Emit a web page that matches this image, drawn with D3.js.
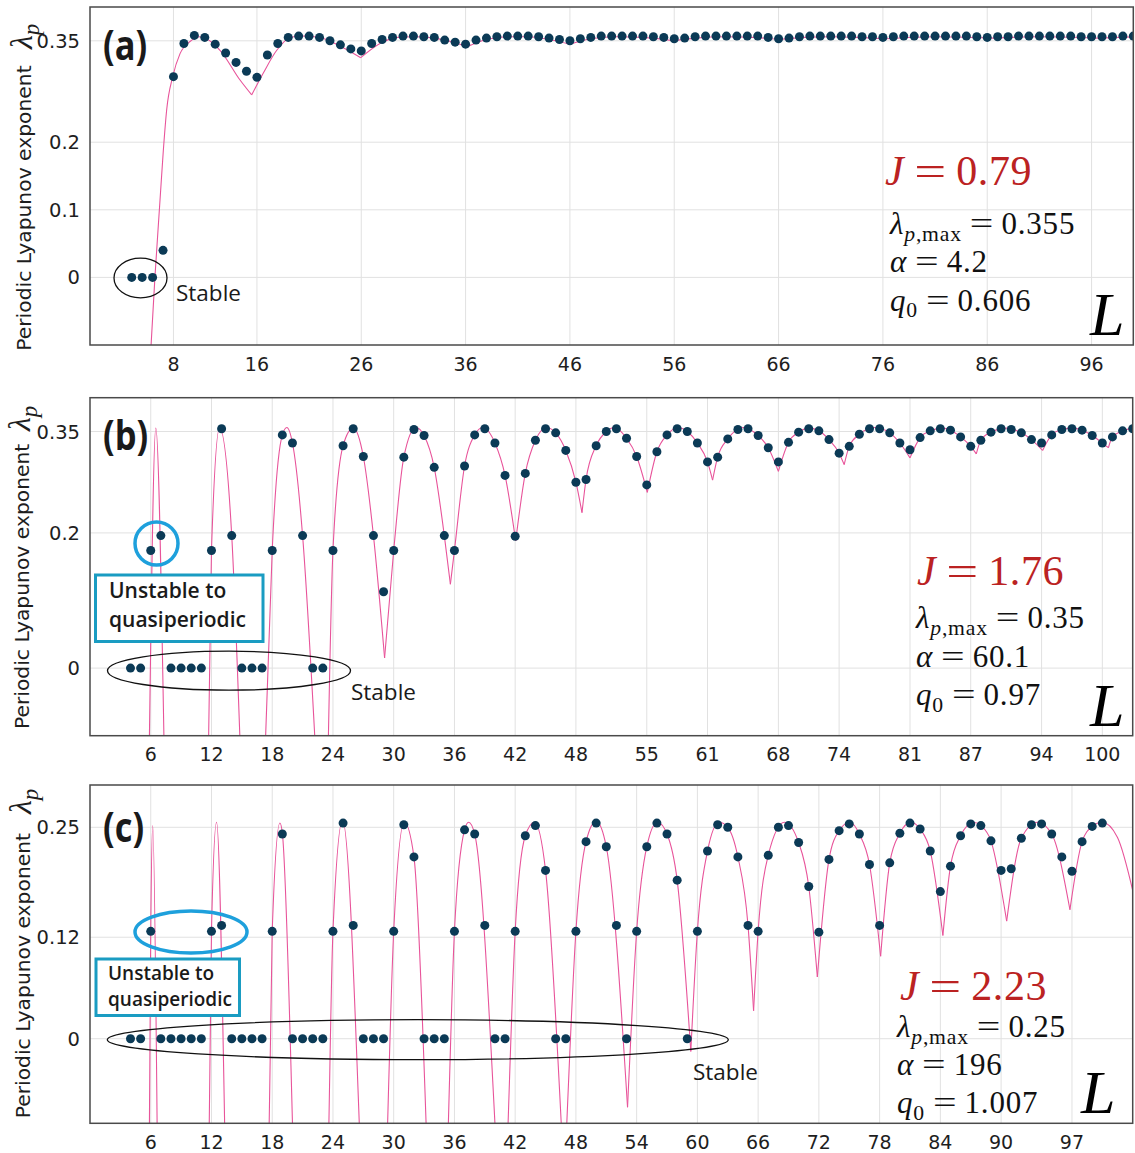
<!DOCTYPE html>
<html><head><meta charset="utf-8">
<script src="https://cdn.jsdelivr.net/npm/d3@7"></script>
<style>body{margin:0;background:#fff} svg{display:block}</style>
</head><body>
<svg id="chart" width="1135" height="1153"></svg>
<script>
// ---------------- DATA ----------------
// Panel (a): periodic Lyapunov exponent at integer L starting at L = 4
const firstL_a = 4;
const lambdaA = [
  0,0,0,0.040,0.297,0.346,
  0.358,0.355,0.345,0.332,0.318,0.305,0.296,0.329,0.346,0.355,
  0.357,0.357,0.355,0.350,0.344,0.338,0.335,0.346,0.352,0.355,
  0.357,0.357,0.356,0.355,0.351,0.348,0.345,0.351,0.354,0.356,
  0.357,0.357,0.357,0.356,0.354,0.352,0.350,0.353,0.355,0.357,
  0.357,0.357,0.357,0.357,0.356,0.355,0.353,0.354,0.356,0.357,
  0.357,0.357,0.357,0.357,0.357,0.355,0.353,0.354,0.356,0.357,
  0.357,0.357,0.357,0.357,0.356,0.356,0.355,0.356,0.357,0.357,
  0.357,0.357,0.357,0.357,0.357,0.356,0.355,0.356,0.356,0.357,
  0.357,0.357,0.357,0.357,0.357,0.356,0.356,0.356,0.356,0.357,0.357
];
// Panel (a): theory curve, arches between cusps, [L, value]
const curveA = [
  [[5.8,-0.115],[6.23,0.002],[6.71,0.114],[7.03,0.188],[7.35,0.248],[7.93,0.297],[8.63,0.331],[9.59,0.349],[10.55,0.356],[12.46,0.336],[14.38,0.292],[15.5,0.270]],
  [[15.5,0.270],[16.6,0.302],[17.9,0.336],[19.2,0.355],[20.3,0.357],[22,0.355],[24,0.342],[25.95,0.325]],
  [[25.95,0.325],[27.8,0.346],[29.5,0.355],[31,0.356],[33,0.354],[35,0.347],[36.1,0.341]],
  [[36.1,0.341],[38,0.352],[40,0.356],[42,0.356],[44,0.352],[46,0.345]],
  [[46,0.345],[48,0.353],[50.5,0.356],[53,0.355],[55.9,0.350]],
  [[55.9,0.350],[58,0.354],[61,0.356],[63.5,0.355],[66.1,0.352]],
  [[66.1,0.352],[68.5,0.355],[71,0.356],[73.5,0.355],[76.3,0.353]],
  [[76.3,0.353],[81,0.356],[86.4,0.354]],
  [[86.4,0.354],[91,0.356],[96.6,0.354]],
  [[96.6,0.354],[100.5,0.356]]
];
const xTicksA = [8,16,26,36,46,56,66,76,86,96];
const yTicksA = [0,0.1,0.2,0.35];
const yTickLabelsA = ["0","0.1","0.2","0.35"];

// Panel (b)
const firstL_b = 4;
const lambdaB = [
  0,0,0.174,0.196,0,0,
  0,0,0.174,0.354,0.196,0,0,0,0.174,0.345,
  0.333,0.196,0,0,0.174,0.329,0.354,0.313,0.196,0.113,
  0.174,0.312,0.353,0.344,0.297,0.196,0.174,0.299,0.345,0.354,
  0.333,0.285,0.195,0.288,0.337,0.354,0.348,0.322,0.275,0.279,
  0.329,0.350,0.354,0.340,0.313,0.271,0.320,0.345,0.354,0.350,
  0.333,0.305,0.312,0.339,0.353,0.354,0.344,0.326,0.305,0.334,
  0.349,0.354,0.351,0.338,0.318,0.328,0.346,0.354,0.354,0.348,
  0.333,0.323,0.341,0.351,0.354,0.352,0.342,0.328,0.337,0.349,
  0.354,0.353,0.348,0.338,0.333,0.345,0.353,0.354,0.352,0.344,
  0.333,0.342,0.351,0.354
];
const curveB = [
  [[5.87,-0.1],[6.5,0.355],[7.3,-0.1]],
  [[11.72,-0.1],[12,0.174],[12.8,0.355],[14,0.196],[14.8,-0.1]],
  [[17.35,-0.1],[18,0.174],[19,0.345],[19.45,0.356],[20,0.333],[21,0.196],[22.2,-0.1]],
  [[23.55,-0.1],[24,0.174],[25,0.329],[26,0.355],[27,0.313],[28,0.196],[29.1,0.015]],
  [[29.1,0.015],[30,0.174],[31,0.312],[32.2,0.356],[33,0.344],[34,0.297],[35,0.196],[35.6,0.124]],
  [[35.6,0.124],[36,0.174],[37,0.299],[38,0.345],[38.8,0.356],[40,0.333],[41,0.285],[42.05,0.188]],
  [[42.05,0.188],[43,0.288],[44,0.337],[45.1,0.356],[46,0.348],[47,0.322],[48,0.275],[48.6,0.230]],
  [[48.6,0.230],[49,0.279],[50,0.329],[51,0.350],[51.8,0.356],[53,0.340],[54,0.313],[55.05,0.260]],
  [[55.05,0.260],[56,0.320],[57,0.345],[58.1,0.356],[59,0.350],[60,0.333],[61,0.305],[61.5,0.278]],
  [[61.5,0.278],[62,0.312],[63,0.339],[64.5,0.356],[66,0.344],[67,0.326],[68,0.291]],
  [[68,0.291],[69,0.334],[70,0.349],[71.1,0.355],[72,0.351],[73,0.338],[74,0.318],[74.5,0.301]],
  [[74.5,0.301],[75,0.328],[76,0.346],[77.5,0.356],[79,0.348],[80,0.333],[81,0.311]],
  [[81,0.311],[82,0.341],[83,0.351],[84.2,0.355],[85,0.352],[86,0.342],[87,0.328],[87.55,0.317]],
  [[87.55,0.317],[88,0.337],[89,0.349],[90.6,0.355],[92,0.348],[93,0.338],[94.1,0.322]],
  [[94.1,0.322],[95,0.345],[96,0.353],[97.1,0.355],[98,0.352],[99,0.344],[100,0.333],[100.6,0.326]],
  [[100.6,0.326],[101,0.342],[102,0.351],[103.5,0.356]]
];
const xTicksB = [6,12,18,24,30,36,42,48,55,61,68,74,81,87,94,100];
const yTicksB = [0,0.2,0.35];
const yTickLabelsB = ["0","0.2","0.35"];

// Panel (c)
const firstL_c = 4;
const lambdaC = [
  0,0,0.127,0,0,0,
  0,0,0.127,0.134,0,0,0,0,0.127,0.242,
  0,0,0,0,0.127,0.255,0.134,0,0,0,
  0.127,0.253,0.215,0,0,0,0.127,0.247,0.242,0.134,
  0,0,0.127,0.240,0.252,0.199,0,0,0.127,0.233,
  0.255,0.227,0.134,0,0.127,0.227,0.255,0.242,0.1875,0,
  0.127,0.222,0.253,0.250,0.215,0.134,0.127,0.217,0.250,0.252,
  0.232,0.180,0.126,0.212,0.246,0.254,0.242,0.206,0.134,0.208,
  0.243,0.255,0.248,0.222,0.174,0.204,0.240,0.254,0.252,0.234,
  0.199,0.201,0.237,0.253,0.254,0.242,0.215,0.198,0.233,0.251,0.255
];
const curveC = [
  [[5.87,-0.1],[6,0.127],[6.2,0.252],[6.63,-0.1]],
  [[11.78,-0.1],[12,0.127],[12.5,0.256],[13.3,-0.1]],
  [[17.7,-0.1],[18,0.127],[18.76,0.255],[19,0.243],[20,-0.1]],
  [[23.6,-0.1],[24,0.127],[24.95,0.258],[26.6,-0.1]],
  [[29.4,-0.1],[30,0.127],[31.05,0.256],[32,0.215],[33.2,-0.1]],
  [[35.4,-0.1],[36,0.127],[37,0.247],[37.4,0.256],[38,0.242],[40,-0.1]],
  [[41.3,-0.1],[42,0.127],[43,0.240],[43.9,0.256],[45,0.199],[46.55,-0.1]],
  [[47.1,-0.1],[48,0.127],[49,0.233],[50,0.257],[51,0.227],[53.1,-0.081]],
  [[53.1,-0.081],[54,0.127],[55,0.227],[56.05,0.256],[57,0.242],[58,0.1875],[59.35,-0.015]],
  [[59.35,-0.015],[60,0.127],[61,0.222],[62.15,0.256],[63,0.250],[64,0.215],[65,0.134],[65.55,0.033]],
  [[65.55,0.033],[66,0.127],[67,0.217],[68.6,0.256],[70,0.232],[71,0.180],[71.85,0.073]],
  [[71.85,0.073],[73,0.212],[74,0.246],[75.05,0.256],[76,0.242],[77,0.206],[78.1,0.0975]],
  [[78.1,0.0975],[79,0.208],[80,0.243],[81.1,0.256],[82,0.248],[83,0.222],[84.25,0.122]],
  [[84.25,0.122],[85,0.204],[86,0.240],[87.3,0.256],[88,0.252],[89,0.234],[90.55,0.139]],
  [[90.55,0.139],[92,0.237],[93.6,0.256],[95,0.242],[96.8,0.1525]],
  [[96.8,0.1525],[98,0.233],[99,0.251],[100,0.256],[101.5,0.238],[103.2,0.165]]
];
const xTicksC = [6,12,18,24,30,36,42,48,54,60,66,72,78,84,90,97];
const yTicksC = [0,0.12,0.25];
const yTickLabelsC = ["0","0.12","0.25"];

// Parameter annotations
const paramsJ = ["0.79","1.76","2.23"];
const paramsLmax = ["0.355","0.35","0.25"];
const paramsAlpha = ["4.2","60.1","196"];
const paramsQ0 = ["0.606","0.97","1.007"];
const panelLetters = ["(a)","(b)","(c)"];

// ---------------- DRAW ----------------
const svg = d3.select("#chart");
const DOT = "#0b3a56", PINK = "#e8549a", RED = "#bb2222";
const SERIF = "'Liberation Serif', 'Times New Roman', serif";

const panels = [
  {letter:panelLetters[0], x0:90, x1:1133.3, y0:7, y1:345, xd:[0,100], yd:[-0.1,0.4],
   xt:xTicksA, yt:yTicksA, ytl:yTickLabelsA, first:firstL_a, vals:lambdaA, curve:curveA,
   lab:{x:30.5, yb:350.7, lam:49}, letterPos:[103,60],
   txt:{jx:885,jy:185,px:890,ly:234,ay:272,qy:310.5,Lx:1090,Ly:335}},
  {letter:panelLetters[1], x0:90, x1:1132.7, y0:397.7, y1:735.7, xd:[0,103], yd:[-0.1,0.4],
   xt:xTicksB, yt:yTicksB, ytl:yTickLabelsB, first:firstL_b, vals:lambdaB, curve:curveB,
   lab:{x:29, yb:729, lam:431}, letterPos:[103,450],
   txt:{jx:917,jy:585,px:916,ly:628,ay:667,qy:705,Lx:1090,Ly:726}},
  {letter:panelLetters[2], x0:90, x1:1132.7, y0:785, y1:1123.3, xd:[0,103], yd:[-0.1,0.3],
   xt:xTicksC, yt:yTicksC, ytl:yTickLabelsC, first:firstL_c, vals:lambdaC, curve:curveC,
   lab:{x:29.5, yb:1118.3, lam:814}, letterPos:[103,842],
   txt:{jx:900,jy:1000,px:897,ly:1037,ay:1075,qy:1113,Lx:1081,Ly:1113}}
];

// math-like line: LHS (italic / subscripts), a horizontally stretched "=", then the value
function mathText(g, x, y, size, color, lhs, value, gap, ls) {
  const t = g.append("text").attr("x", x).attr("y", y)
    .attr("font-family", SERIF).attr("font-size", size).attr("fill", color)
    .attr("letter-spacing", ls);
  let shift = 0;
  lhs.forEach(s => {
    const sp = t.append("tspan").text(s.t);
    if (s.it) sp.attr("font-style", "italic");
    const target = s.sub ? size * 0.22 : 0;
    const dy = target - shift;
    if (dy !== 0) sp.attr("dy", dy);
    shift = target;
    if (s.sub) sp.attr("font-size", size * 0.7);
  });
  const w1 = t.node().getComputedTextLength();
  const xe = x + w1 + gap;
  const eq = g.append("text").attr("transform", `translate(${xe},${y}) scale(1.35,1)`)
    .attr("font-family", SERIF).attr("font-size", size).attr("fill", color).text("=");
  const we = eq.node().getComputedTextLength() * 1.35;
  g.append("text").attr("x", xe + we + gap).attr("y", y)
    .attr("font-family", SERIF).attr("font-size", size).attr("fill", color)
    .attr("letter-spacing", ls).text(value);
}

panels.forEach((p, i) => {
  const g = svg.append("g");
  const x = d3.scaleLinear().domain(p.xd).range([p.x0, p.x1]);
  const y = d3.scaleLinear().domain(p.yd).range([p.y1, p.y0]);
  const cid = "clip" + i;
  svg.append("clipPath").attr("id", cid).append("rect")
    .attr("x", p.x0).attr("y", p.y0).attr("width", p.x1 - p.x0).attr("height", p.y1 - p.y0);

  // grid
  g.append("g").selectAll("line").data(p.xt).join("line")
    .attr("x1", d => x(d)).attr("x2", d => x(d)).attr("y1", p.y0).attr("y2", p.y1)
    .attr("stroke", "#e1e1e1").attr("stroke-width", 1);
  g.append("g").selectAll("line").data(p.yt).join("line")
    .attr("x1", p.x0).attr("x2", p.x1).attr("y1", d => y(d)).attr("y2", d => y(d))
    .attr("stroke", "#e1e1e1").attr("stroke-width", 1);

  // curve
  const line = d3.line().x(d => x(d[0])).y(d => y(d[1])).curve(d3.curveMonotoneX);
  g.append("g").attr("clip-path", `url(#${cid})`).selectAll("path").data(p.curve).join("path")
    .attr("d", line).attr("fill", "none").attr("stroke", PINK).attr("stroke-width", 1.1);

  // dots
  g.append("g").attr("clip-path", `url(#${cid})`).selectAll("circle").data(p.vals).join("circle")
    .attr("cx", (d, k) => x(p.first + k)).attr("cy", d => y(d)).attr("r", 4.5).attr("fill", DOT);

  // frame
  g.append("rect").attr("x", p.x0).attr("y", p.y0).attr("width", p.x1 - p.x0).attr("height", p.y1 - p.y0)
    .attr("fill", "none").attr("stroke", "#4a4a4a").attr("stroke-width", 1.5);

  // tick labels
  g.append("g").selectAll("text").data(p.xt).join("text")
    .attr("x", d => x(d)).attr("y", p.y1 + 25.5).attr("text-anchor", "middle")
    .attr("font-family", "'DejaVu Sans', sans-serif").attr("font-size", 19).attr("fill", "#1e1e1e")
    .text(d => d);
  g.append("g").selectAll("text").data(p.yt).join("text")
    .attr("x", p.x0 - 10).attr("y", d => y(d)).attr("dy", "0.36em").attr("text-anchor", "end")
    .attr("font-family", "'DejaVu Sans', sans-serif").attr("font-size", 19.5).attr("fill", "#1e1e1e")
    .text((d, k) => p.ytl[k]);

  // y label
  g.append("text").attr("transform", `translate(${p.lab.x},${p.lab.yb}) rotate(-90)`)
    .attr("font-family", "'DejaVu Sans', sans-serif").attr("font-size", 20.3).attr("fill", "#1e1e1e")
    .text("Periodic Lyapunov exponent");
  const lt = g.append("text").attr("transform", `translate(${p.lab.x + 1},${p.lab.lam}) rotate(-90)`)
    .attr("font-family", SERIF).attr("font-style", "italic")
    .attr("font-size", 32).attr("fill", "#1e1e1e");
  lt.append("tspan").text("λ");
  lt.append("tspan").attr("dy", 7).attr("font-size", 23).text("p");

  // panel letter
  g.append("text").attr("transform", `translate(${p.letterPos[0]},${p.letterPos[1]}) scale(0.84,1)`)
    .attr("font-family", "'Open Sans', sans-serif").attr("font-weight", 700)
    .attr("font-size", 41).attr("fill", "#1a1a1a").text(p.letter);

  // parameter texts
  const t = p.txt;
  mathText(g, t.jx, t.jy, 42, RED, [{t:"J", it:true}], paramsJ[i], 10, 0.6);
  mathText(g, t.px, t.ly, 31, "#111", [{t:"λ", it:true}, {t:"p", it:true, sub:true}, {t:",max", sub:true}], paramsLmax[i], 8, 0.8);
  mathText(g, t.px, t.ay, 31, "#111", [{t:"α", it:true}], paramsAlpha[i], 8, 0.8);
  mathText(g, t.px, t.qy, 31, "#111", [{t:"q", it:true}, {t:"0", sub:true}], paramsQ0[i], 8, 0.8);
  g.append("text").attr("x", t.Lx).attr("y", t.Ly)
    .attr("font-family", SERIF).attr("font-style", "italic")
    .attr("font-size", 62).attr("fill", "#000").text("L");
});

// ---------------- ANNOTATIONS ----------------
const ann = svg.append("g");
const sansAnn = "'Open Sans', 'Noto Sans', sans-serif";
function ellipse(cx, cy, rx, ry, col, w) {
  ann.append("ellipse").attr("cx", cx).attr("cy", cy).attr("rx", rx).attr("ry", ry)
    .attr("fill", "none").attr("stroke", col).attr("stroke-width", w);
}
function label(x, y, s, size, weight) {
  ann.append("text").attr("x", x).attr("y", y).attr("font-family", sansAnn)
    .attr("font-size", size).attr("font-weight", weight || 400).attr("fill", "#1a1a1a").text(s);
}
function box(x, y, w, h, lines, size, tx, ty, lh) {
  ann.append("rect").attr("x", x).attr("y", y).attr("width", w).attr("height", h)
    .attr("fill", "#fff").attr("stroke", "#1a9cc2").attr("stroke-width", 3);
  lines.forEach((s, k) => label(tx, ty + k * lh, s, size, 600));
}
// (a)
ellipse(140.5, 278, 26.5, 19.8, "#111", 1.3);
label(176, 301, "Stable", 22.5);
// (b)
ellipse(156.5, 543.5, 21.5, 21.5, "#1ea0dc", 3.5);
box(95.5, 575, 167.5, 66.5, ["Unstable to", "quasiperiodic"], 21, 109, 598, 29);
ellipse(229, 670.7, 121.5, 19.5, "#111", 1.3);
label(351, 700, "Stable", 22.5);
// (c)
ellipse(191, 932, 56, 21, "#1ea0dc", 3.5);
box(96, 959, 143.5, 56.5, ["Unstable to", "quasiperiodic"], 19, 108, 980, 25.5);
ellipse(417.8, 1039.7, 310.5, 20, "#111", 1.3);
label(693, 1080, "Stable", 22.5);
</script>
</body></html>
